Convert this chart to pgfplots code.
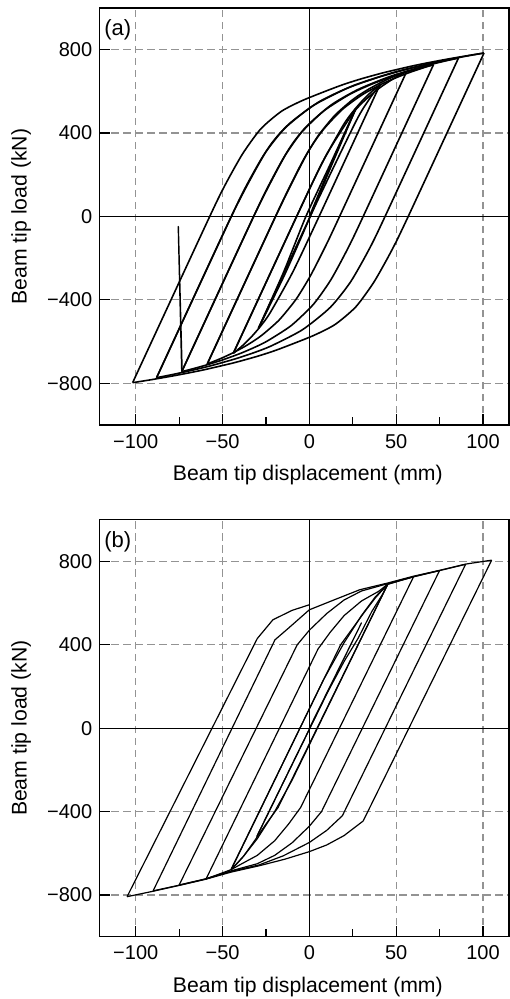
\documentclass[border=0pt]{standalone}
\usepackage{pgfplots}
\pgfplotsset{compat=1.18}
\usepackage{fontspec}
\setmainfont{Liberation Sans}
\pgfplotsset{
 hyst/.style={
  scale only axis, width=204.85pt, height=208.5pt,
  xmin=-121, xmax=115, ymin=-1000, ymax=1000,
  xtick={-100,-50,0,50,100}, xticklabels={−100,−50,0,50,100},
  minor xtick={-75,-25,25,75},
  ytick={-800,-400,0,400,800}, yticklabels={−800,−400,0,400,800},
  xtick pos=bottom, ytick pos=left, tick align=inside,
  major tick length=5.5pt, minor tick length=4pt,
  tick style={black, line width=0.6pt},
  grid=major,
  major grid style={dash pattern=on 3.6pt off 2.4pt, line width=0.6pt, color=gray!85},
  axis line style={line width=0.7pt},
  tick label style={font=\fontsize{10}{11}\selectfont},
  xticklabel style={yshift=-1pt},
  xlabel={Beam tip displacement (mm)},
  ylabel={Beam tip load (kN)},
  label style={font=\fontsize{10.6}{12}\selectfont},
  xlabel style={at={([yshift=-28pt]axis description cs:0.509,0)}, anchor=base},
  ylabel style={at={([xshift=-36.3pt]axis description cs:0,0.5)}, anchor=base},
 },
 ca/.style={black, line width=0.8pt, line join=round, mark=none, smooth, tension=0.4},
 cs/.style={black, line width=0.8pt, line join=round, mark=none},
 cb/.style={black, line width=0.6pt, line join=round, mark=none},
 zl/.style={black, line width=0.6pt, mark=none},
}
\begin{document}
\begin{tikzpicture}
\useasboundingbox (-49.65pt,-287pt) rectangle (204.85pt,212.5pt);
% ---------------- panel (a)
\begin{axis}[hyst, at={(0pt,0pt)}, anchor=south west]
\addplot[zl] coordinates {(0,-1000) (0,1000)};
\addplot[zl] coordinates {(-121,0) (115,0)};
% elastic cycles
\addplot[cs] coordinates {(0,0) (13,260) (26.9,520)};
\addplot[ca] coordinates {(26.9,520) (12,230) (0.5,0) (-14,-275) (-29.3,-536)};
\addplot[ca] coordinates {(-29.3,-536) (-15,-270) (-2,0) (12,250) (26.9,520)};
% transitions
\addplot[ca] coordinates {(-29.3,-536) (3.15,48) (26.86,456.8) (34.45,561.9) (39.56,620.3) (40.7,632)};
\addplot[ca] coordinates {(-43.8,-656) (-6.22,20) (9.48,290.4) (24.92,493.2) (32.44,560.8) (40.16,614.9) (47.34,655.4) (52.98,682.5) (56.1,696)};
\addplot[ca] coordinates {(-58.8,-707) (-18.89,10.5) (-1.57,297.5) (7.6,412.3) (18.92,512.75) (30.59,584.5) (43.38,641.9) (55.83,684.95) (65.87,713.65) (71.5,728)};
\addplot[ca] coordinates {(-73.5,-744) (-31.65,8) (-12.87,308.8) (-2.0,429.1) (12.46,534.4) (28.15,609.6) (45.89,669.8) (63.48,714.9) (77.81,745.0) (85.9,760)};
\addplot[ca] coordinates {(-88,-773) (-44.65,5.5) (-24.57,316.9) (-12.02,441.5) (5.63,550.45) (25.45,628.3) (48.3,690.6) (71.2,737.3) (89.97,768.4) (100.6,784)};
% loop 42
\addplot[ca] coordinates {(-43.8,-656) (-8.01,-12) (6.66,245.6) (19.57,438.8) (25.11,503.2) (30.43,554.7) (35.15,593.4) (38.75,619.1) (40.7,632)};
\addplot[ca] coordinates {(40.7,632) (4.91,-12) (-9.76,-269.6) (-22.67,-462.8) (-28.21,-527.2) (-33.53,-578.7) (-38.25,-617.4) (-41.85,-643.1) (-43.8,-656)};
% loop 57
\addplot[ca] coordinates {(-58.8,-707) (-19.79,-5.5) (-11.81,134.8) (-3.2,275.1) (5.08,387.3) (14.73,485.6) (24.24,555.7) (28.96,583.8) (34.37,611.8) (40.6,639.9) (44.06,653.9) (47.78,668.0) (51.79,682.0) (53.9,689.0) (56.1,696)};
\addplot[ca] coordinates {(56.1,696) (17.09,-5.5) (9.11,-145.8) (0.5,-286.1) (-7.78,-398.3) (-17.43,-496.6) (-26.94,-566.7) (-31.66,-594.8) (-37.07,-622.8) (-43.3,-650.9) (-46.76,-664.9) (-50.48,-679.0) (-54.49,-693.0) (-56.6,-700.0) (-58.8,-707)};
% loop 72
\addplot[ca] coordinates {(-73.5,-744) (-32.55,-8) (-24.05,139.2) (-14.47,286.4) (-4.44,404.2) (8.46,507.2) (22.14,580.8) (29.2,610.2) (37.42,639.7) (47.04,669.1) (52.45,683.8) (58.3,698.6) (64.64,713.3) (68.0,720.6) (71.5,728)};
\addplot[ca] coordinates {(71.5,728) (30.55,-8) (22.05,-155.2) (12.47,-302.4) (2.44,-420.2) (-10.46,-523.2) (-24.14,-596.8) (-31.2,-626.2) (-39.42,-655.7) (-49.04,-685.1) (-54.45,-699.8) (-60.3,-714.6) (-66.64,-729.3) (-70.0,-736.6) (-73.5,-744)};
\addplot[cs, line width=0.7pt] coordinates {(-73.5,-744) (-75.5,-48) (-73.3,-742)};
% loop 87
\addplot[ca] coordinates {(-88,-773) (-45.33,-6.5) (-36.36,146.8) (-25.88,300.1) (-14.17,422.7) (1.86,530.05) (19.59,606.7) (28.9,637.4) (39.85,668.0) (52.75,698.7) (60.05,714.0) (67.97,729.3) (76.56,744.7) (81.14,752.3) (85.9,760)};
\addplot[ca] coordinates {(85.9,760) (43.23,-6.5) (34.26,-159.8) (23.78,-313.1) (12.07,-435.7) (-3.96,-543.05) (-21.69,-619.7) (-31.0,-650.4) (-41.95,-681.0) (-54.85,-711.7) (-62.15,-727.0) (-70.07,-742.3) (-78.66,-757.7) (-83.24,-765.3) (-88,-773)};
% loop 101
\addplot[ca] coordinates {(-101.8,-797) (-57.77,-6.5) (-48.6,150) (-38.5,300) (-28,420) (-16,505) (-3,560) (17.2,625.9) (28.77,657.5) (42.47,689.1) (58.69,720.8) (67.88,736.6) (77.89,752.4) (88.77,768.2) (94.56,776.1) (100.6,784)};
\addplot[ca] coordinates {(100.6,784) (56.57,-6.5) (47.4,-163) (37.3,-313) (26.8,-433) (14.8,-518) (1.8,-573) (-18.4,-638.9) (-29.97,-670.5) (-43.67,-702.1) (-59.89,-733.8) (-69.08,-749.6) (-79.09,-765.4) (-89.97,-781.2) (-95.76,-789.1) (-101.8,-797)};
\node[font=\fontsize{11}{12}\selectfont] at (rel axis cs:0.045,0.947) {(a)};
\end{axis}
% ---------------- panel (b)
\begin{axis}[hyst, at={(0pt,-255.85pt)}, anchor=south west]
\addplot[zl] coordinates {(0,-1000) (0,1000)};
\addplot[zl] coordinates {(-121,0) (115,0)};
\addplot[cb] coordinates {(0,0) (30,505) (-30.3,-520)};
\addplot[cb] coordinates {(-30.3,-520) (10,165) (20,320) (28,430) (36,560) (42,640) (45,688)};
\addplot[cb] coordinates {(45,688) (-18,-380) (-25,-460) (-32,-545) (-38,-615) (-42,-652) (-45,-675)};
\addplot[cb] coordinates {(-45,-675) (18,400) (25,480) (32,560) (38,625) (42,662) (45,688)};
\addplot[cb] coordinates {(45,688) (-10,-250) (-20,-400) (-30,-530) (-38,-615) (-45,-678)};
\addplot[cb] coordinates {(-45,-678) (8,230) (20,410) (30,540) (38,630) (45,690) (52,708) (60,726)};
\addplot[cb] coordinates {(60,726) (-5,-380) (-12,-460) (-20,-540) (-30,-610) (-40,-655) (-45,-678) (-59.5,-723)};
\addplot[cb] coordinates {(-59.5,-723) (5,380) (12,460) (20,540) (30,610) (40,657) (45,690) (60,726) (75,756)};
\addplot[cb] coordinates {(75,756) (7,-400) (0,-470) (-10,-550) (-20,-610) (-30,-650) (-45,-684) (-60,-723) (-75,-752)};
\addplot[cb] coordinates {(-75,-752) (-7,400) (0,470) (10,550) (20,615) (30,658) (45,693) (60,727) (75,756) (90,786)};
\addplot[cb] coordinates {(90,786) (19,-420) (10,-490) (0,-548) (-15,-612) (-29,-656) (-45,-686) (-60,-724) (-75,-753) (-90,-780)};
\addplot[cb] coordinates {(-90,-780) (-19.8,424) (-12,480) (0,568) (12,608) (29,664) (45,696) (60,729) (75,757) (90,787) (105,806)};
\addplot[cb] coordinates {(105,806) (31,-445) (20,-515) (10,-560) (0,-592) (-14,-628) (-29,-660) (-45,-690) (-60,-725) (-75,-754) (-90,-782) (-105,-808)};
\addplot[cb] coordinates {(-105,-808) (-30,430) (-21,520) (-10,565) (0,592)};
\node[font=\fontsize{11}{12}\selectfont] at (rel axis cs:0.045,0.947) {(b)};
\end{axis}
\end{tikzpicture}
\end{document}
